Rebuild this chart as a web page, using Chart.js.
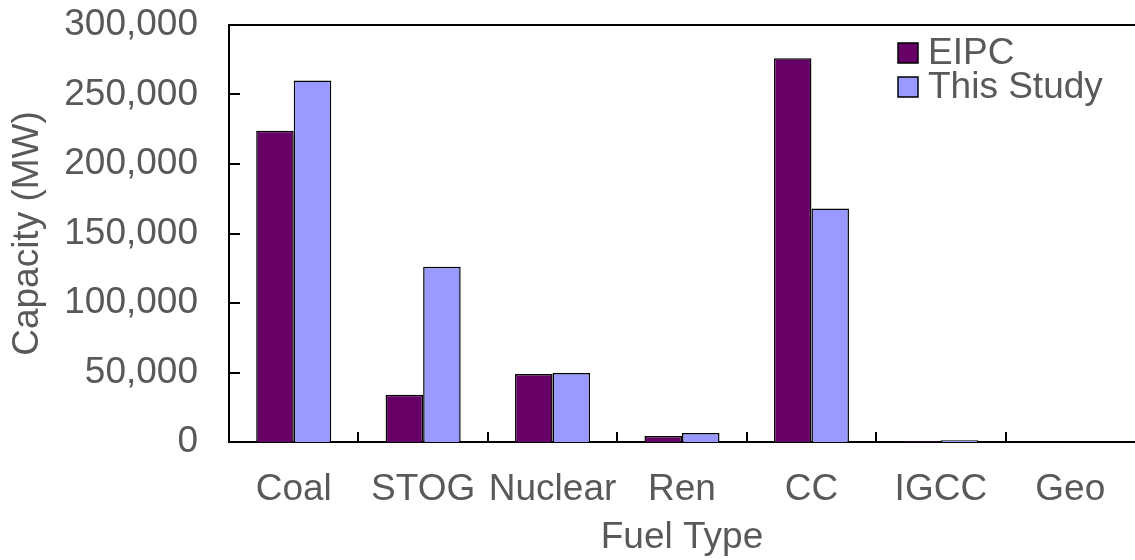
<!DOCTYPE html>
<html>
<head>
<meta charset="utf-8">
<script src="https://cdn.jsdelivr.net/npm/chart.js@4/dist/chart.umd.min.js"></script>
<style>
html,body{margin:0;padding:0;background:#fff;}
#wrap{width:1135px;height:560px;position:relative;}
</style>
</head>
<body>
<div id="wrap"><canvas id="c"></canvas></div>
<script>
const fuelTypes = ["Coal","STOG","Nuclear","Ren","CC","IGCC","Geo"];
const eipc = [224000, 34000, 49000, 4300, 276000, 600, 200];
const thisStudy = [260000, 126000, 49600, 6500, 168000, 1300, 0];
const yTicks = [0, 50000, 100000, 150000, 200000, 250000, 300000];

const txt = "#595959";
const fnt = "'Liberation Sans', Arial, sans-serif";

// inward tick marks, top border, legend inside the plot
const frame = {
    id:"frame",
    afterDraw(chart){
        const ctx=chart.ctx, a=chart.chartArea;
        const x=chart.scales.x, y=chart.scales.y;
        ctx.save();
        ctx.strokeStyle="#000"; ctx.lineWidth=2;
        ctx.beginPath();
        ctx.moveTo(a.left,a.top); ctx.lineTo(a.right,a.top);
        yTicks.forEach(v=>{ const p=Math.round(y.getPixelForValue(v)); ctx.moveTo(a.left,p); ctx.lineTo(a.left+11,p); });
        for(let i=1;i<fuelTypes.length;i++){
            const p=Math.round((x.getPixelForValue(i-1)+x.getPixelForValue(i))/2);
            ctx.moveTo(p,a.bottom); ctx.lineTo(p,a.bottom-10);
        }
        ctx.stroke();
        // legend
        ctx.font="37px "+fnt; ctx.textBaseline="middle"; ctx.textAlign="left";
        chart.data.datasets.forEach((d,i)=>{
            const cy=53+i*34;
            ctx.fillStyle=d.backgroundColor; ctx.fillRect(898,cy-10,20,20);
            ctx.lineWidth=1.5; ctx.strokeStyle="#000"; ctx.strokeRect(898,cy-10,20,20);
            ctx.fillStyle=txt; ctx.fillText(d.label,928,cy+1);
        });
        ctx.restore();
    }
};

new Chart(document.getElementById("c"),{
    type:"bar",
    data:{
        labels:fuelTypes,
        datasets:[
            { label:"EIPC", data:eipc, backgroundColor:"#660066", borderColor:"#000", borderWidth:1.5 },
            { label:"This Study", data:thisStudy, backgroundColor:"#9999FF", borderColor:"#000", borderWidth:1.5 }
        ]
    },
    options:{
        responsive:true, maintainAspectRatio:false, animation:false,
        layout:{ padding:{ top:25, right:0, left:0, bottom:0 } },
        datasets:{ bar:{ barPercentage:1, categoryPercentage:0.58 } },
        plugins:{ legend:{display:false}, tooltip:{enabled:false} },
        scales:{
            x:{
                grid:{ display:false },
                border:{ display:true, color:"#000", width:2 },
                ticks:{ color:txt, font:{family:fnt,size:37}, padding:18, maxRotation:0, autoSkip:false },
                title:{ display:true, text:"Fuel Type", color:txt, font:{family:fnt,size:37}, padding:{top:0,bottom:0} },
                afterFit(s){ s.height=118; s.paddingLeft=0; s.paddingRight=0; }
            },
            y:{
                min:0, max:300000,
                afterBuildTicks(s){ s.ticks=yTicks.map(v=>({value:v})); },
                grid:{ display:false },
                border:{ display:true, color:"#000", width:2 },
                ticks:{ color:txt, font:{family:fnt,size:37}, padding:23, callback:v=>v.toLocaleString("en-US") },
                title:{ display:true, text:"Capacity (MW)", color:txt, font:{family:fnt,size:37}, padding:{top:6,bottom:0} },
                afterFit(s){ s.width=229; s.paddingTop=0; s.paddingBottom=0; }
            }
        }
    },
    plugins:[frame]
});
</script>
</body>
</html>
